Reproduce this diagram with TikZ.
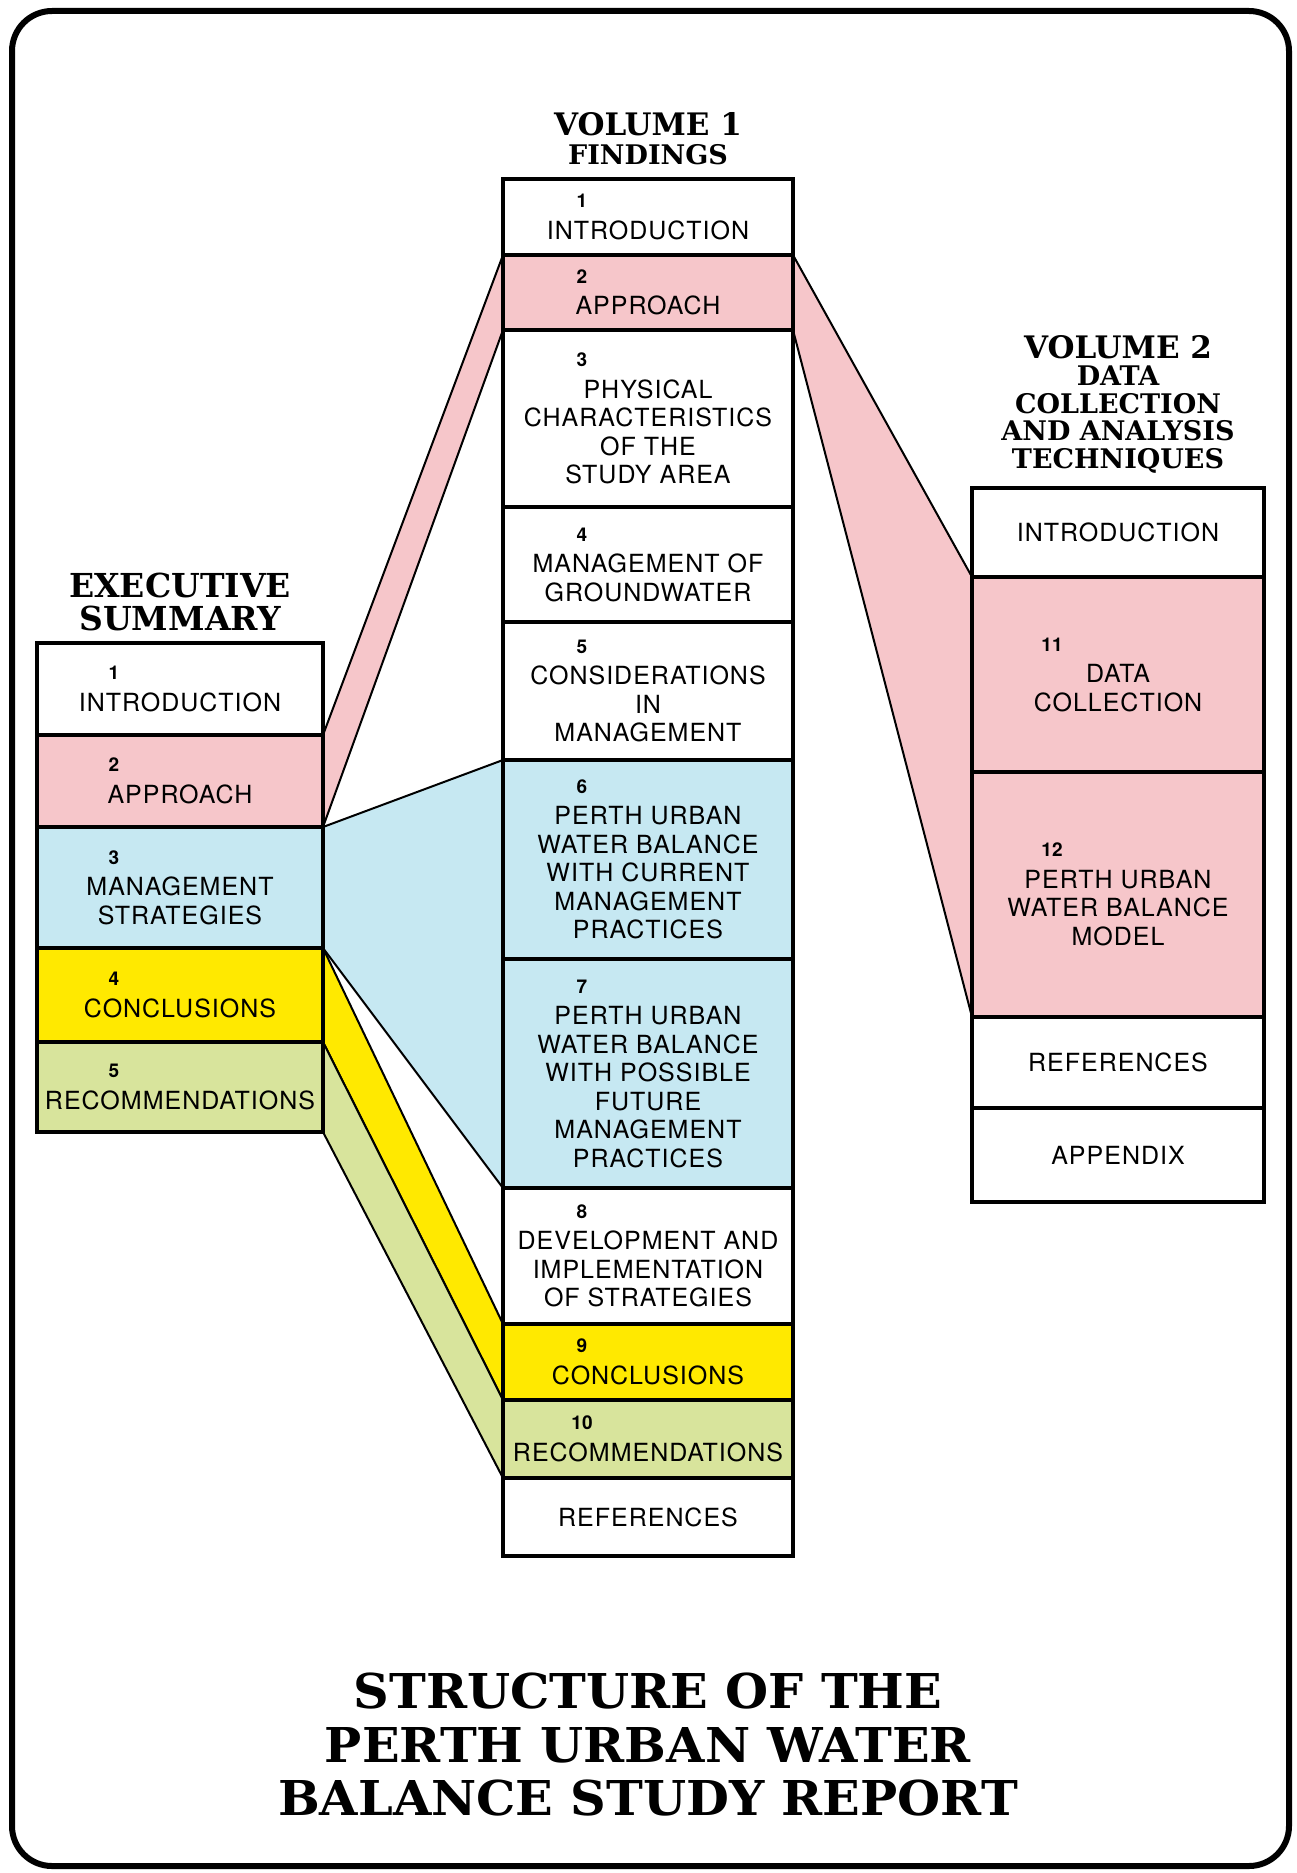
\documentclass[tikz,border=0pt]{standalone}
\usepackage{fontspec}
\usetikzlibrary{positioning,backgrounds}
\newfontfamily\boxfont{TeX Gyre Heros}[LetterSpace=4]
\newfontfamily\numfont{TeX Gyre Heros}
\newfontfamily\headfont{DejaVu Serif}
\newfontfamily\titlefont{DejaVu Serif}[FakeStretch=1.03]
\definecolor{pinkfill}{RGB}{246,198,202}
\definecolor{bluefill}{RGB}{198,232,242}
\definecolor{yellowfill}{RGB}{255,233,0}
\definecolor{limefill}{RGB}{216,228,156}
\newcommand\secno[1]{\makebox[0pt]{\hspace*{-132pt}{\numfont\bfseries\fontsize{19}{20}\selectfont #1}}}
\tikzset{
  sec/.style={
    draw,
    line width = 3.5pt,
    inner sep = 0pt,
    outer sep = 0pt,
    align = center,
    font = \boxfont\fontsize{25}{28.5}\selectfont
  },
  essec/.style={sec, minimum width = 286pt},
  finsec/.style={sec, minimum width = 290pt},
  datsec/.style={sec, minimum width = 292pt},
  head/.style={
    align = center,
    inner sep = 0pt,
    outer sep = 0pt,
    font = \headfont\bfseries\fontsize{27}{27.5}\selectfont
  },
  band/.style={line width = 2pt}
}

\begin{document}
\begin{tikzpicture}[x=1pt, y=-1pt]
  \useasboundingbox (0,0) rectangle (1297,1873);
  \draw[line width=6pt, rounded corners=40pt] (12,11) rectangle (1289,1866);

  \node[essec, minimum height=92pt] (es1) at (180,689) {\secno{1}\\[3pt]INTRODUCTION};
  \node[essec, fill=pinkfill, minimum height=92pt, below=0pt of es1] (es2) {\secno{2}\\[3pt]APPROACH};
  \node[essec, fill=bluefill, minimum height=121pt, below=0pt of es2] (es3) {\secno{3}\\[3pt]MANAGEMENT\\STRATEGIES};
  \node[essec, fill=yellowfill, minimum height=94pt, below=0pt of es3] (es4) {\secno{4}\\[3pt]CONCLUSIONS};
  \node[essec, fill=limefill, minimum height=90pt, below=0pt of es4] (es5) {\secno{5}\\[3pt]RECOMMENDATIONS};
  \node[head, font=\headfont\bfseries\fontsize{33}{33}\selectfont, above=12pt of es1] (eshead) {EXECUTIVE\\SUMMARY};

  \node[finsec, minimum height=76pt] (f1) at (648,217) {\secno{1}\\[3pt]INTRODUCTION};
  \node[finsec, fill=pinkfill, minimum height=75pt, below=0pt of f1] (f2) {\secno{2}\\[3pt]APPROACH};
  \node[finsec, minimum height=177pt, below=0pt of f2] (f3) {\secno{3}\\[3pt]PHYSICAL\\CHARACTERISTICS\\OF THE\\STUDY AREA};
  \node[finsec, minimum height=115pt, below=0pt of f3] (f4) {\secno{4}\\[3pt]MANAGEMENT OF\\GROUNDWATER};
  \node[finsec, minimum height=138pt, below=0pt of f4] (f5) {\secno{5}\\[3pt]CONSIDERATIONS\\IN\\MANAGEMENT};
  \node[finsec, fill=bluefill, minimum height=199pt, below=0pt of f5] (f6) {\secno{6}\\[3pt]PERTH URBAN\\WATER BALANCE\\WITH CURRENT\\MANAGEMENT\\PRACTICES};
  \node[finsec, fill=bluefill, minimum height=229pt, below=0pt of f6] (f7) {\secno{7}\\[3pt]PERTH URBAN\\WATER BALANCE\\WITH POSSIBLE\\FUTURE\\MANAGEMENT\\PRACTICES};
  \node[finsec, minimum height=136pt, below=0pt of f7] (f8) {\secno{8}\\[3pt]DEVELOPMENT AND\\IMPLEMENTATION\\OF STRATEGIES};
  \node[finsec, fill=yellowfill, minimum height=76pt, below=0pt of f8] (f9) {\secno{9}\\[3pt]CONCLUSIONS};
  \node[finsec, fill=limefill, minimum height=78pt, below=0pt of f9] (f10) {\secno{10}\\[3pt]RECOMMENDATIONS};
  \node[finsec, minimum height=78pt, below=0pt of f10] (fref) {REFERENCES};
  \node[head, above=14pt of f1] (fhead) {{\fontsize{31}{31}\selectfont VOLUME 1}\\[2pt]FINDINGS};

  \node[datsec, minimum height=89pt] (d0) at (1118,532.5) {INTRODUCTION};
  \node[datsec, fill=pinkfill, minimum height=195pt, below=0pt of d0] (d11) {\secno{11}\\[3pt]DATA\\COLLECTION};
  \node[datsec, fill=pinkfill, minimum height=245pt, below=0pt of d11] (d12) {\secno{12}\\[3pt]PERTH URBAN\\WATER BALANCE\\MODEL};
  \node[datsec, minimum height=91pt, below=0pt of d12] (dref) {REFERENCES};
  \node[datsec, minimum height=94pt, below=0pt of dref] (dapp) {APPENDIX};
  \node[head, above=15pt of d0] (dhead) {{\fontsize{31}{31}\selectfont VOLUME 2}\\DATA\\COLLECTION\\AND ANALYSIS\\TECHNIQUES};

  \begin{scope}[on background layer]
    \fill[pinkfill] (es2.north east) -- (f2.north west) -- (f2.south west) -- (es2.south east) -- cycle;
    \draw[band] (es2.north east) -- (f2.north west) (es2.south east) -- (f2.south west);
    \fill[bluefill] (es3.north east) -- (f6.north west) -- (f7.south west) -- (es3.south east) -- cycle;
    \draw[band] (es3.north east) -- (f6.north west) (es3.south east) -- (f7.south west);
    \fill[yellowfill] (es4.north east) -- (f9.north west) -- (f9.south west) -- (es4.south east) -- cycle;
    \draw[band] (es4.north east) -- (f9.north west) (es4.south east) -- (f9.south west);
    \fill[limefill] (es5.north east) -- (f10.north west) -- (f10.south west) -- (es5.south east) -- cycle;
    \draw[band] (es5.north east) -- (f10.north west) (es5.south east) -- (f10.south west);
    \fill[pinkfill] (f2.north east) -- (d11.north west) -- (d12.south west) -- (f2.south east) -- cycle;
    \draw[band] (f2.north east) -- (d11.north west) (f2.south east) -- (d12.south west);
  \end{scope}

  \node[head, font=\titlefont\bfseries\fontsize{48}{53.5}\selectfont] (title) at (648,1745) {STRUCTURE OF THE\\PERTH URBAN WATER\\BALANCE STUDY REPORT};
\end{tikzpicture}
\end{document}
